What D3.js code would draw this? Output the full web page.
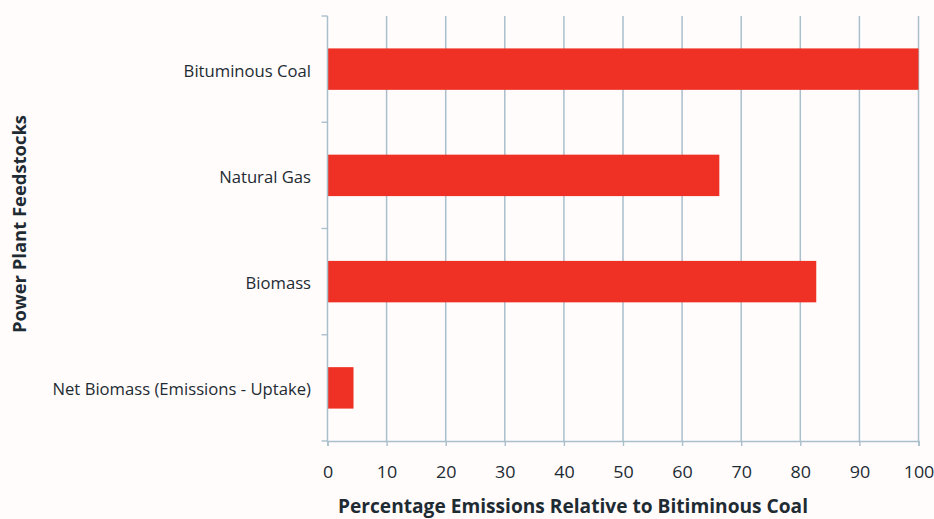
<!DOCTYPE html>
<html><head><meta charset="utf-8">
<script src="https://cdn.jsdelivr.net/npm/d3@7"></script>
<style>
html,body{margin:0;padding:0;background:#fffcfb;}
svg{display:block;}
text{font-family:"Open Sans",sans-serif;fill:#1e2b33;}
</style></head>
<body>
<svg id="chart" width="934" height="519"></svg>
<script>
const categories = ["Bituminous Coal","Natural Gas","Biomass","Net Biomass (Emissions - Uptake)"];
const values = [100, 66.3, 82.7, 4.4];
const xTicks = [0,10,20,30,40,50,60,70,80,90,100];
const xTitle = "Percentage Emissions Relative to Bitiminous Coal";
const yTitle = "Power Plant Feedstocks";

(function(){
const svg = d3.select("#chart");
const mLeft = 327.5, mRight = 918.5, mTop = 16, mBottom = 441;

const x = d3.scaleLinear().domain([0,100]).range([mLeft,mRight]);
const y = d3.scaleBand().domain(categories).range([mTop,mBottom]).paddingInner(0.61).paddingOuter(0.305);

const gridColor = "#a9bfcc";
const stretch = 1.075;

// gridlines
svg.append("g").selectAll("line").data(xTicks.slice(1)).join("line")
  .attr("x1", d=>x(d)).attr("x2", d=>x(d))
  .attr("y1", mTop).attr("y2", mBottom)
  .attr("stroke", gridColor).attr("stroke-width", 1.5);

// bars
svg.append("g").selectAll("rect").data(categories).join("rect")
  .attr("x", x(0))
  .attr("y", d=>y(d))
  .attr("width", (d,i)=>x(values[i])-x(0))
  .attr("height", y.bandwidth())
  .attr("fill", "#ee3124");

// y axis line + ticks at band boundaries
const yAxisG = svg.append("g");
yAxisG.append("line").attr("x1", mLeft).attr("x2", mLeft).attr("y1", mTop).attr("y2", mBottom)
  .attr("stroke", gridColor).attr("stroke-width", 1.5);
const boundaries = d3.range(categories.length+1).map(i=>mTop + i*(mBottom-mTop)/categories.length);
yAxisG.selectAll("line.tk").data(boundaries).join("line").attr("class","tk")
  .attr("x1", mLeft-6).attr("x2", mLeft).attr("y1", d=>d).attr("y2", d=>d)
  .attr("stroke", gridColor).attr("stroke-width", 1.4);

// y labels
svg.append("g").selectAll("text").data(categories).join("text")
  .attr("transform", d=>`translate(311,${y(d)+y.bandwidth()/2+7.5}) scale(${stretch},1)`)
  .attr("text-anchor","end")
  .attr("font-size", 15.5).text(d=>d);

// x axis
const xAxis = d3.axisBottom(x).tickValues(xTicks).tickSize(5).tickFormat(d3.format("d"));
const xg = svg.append("g").attr("transform", `translate(0,${mBottom})`).call(xAxis);
xg.select(".domain").attr("stroke", gridColor).attr("stroke-width", 1.5);
xg.selectAll(".tick line").attr("stroke", gridColor).attr("stroke-width", 1.4);
xg.selectAll(".tick text").attr("y", null).attr("dy", null)
  .attr("transform", `translate(0,37) scale(1.12,1)`)
  .attr("font-size", 16).attr("font-family","'Open Sans',sans-serif").attr("fill","#1e2b33");

// titles
svg.append("text").attr("x", 338).attr("y", 513)
  .attr("font-size", 19).attr("font-weight","bold")
  .attr("textLength", 470).attr("lengthAdjust","spacingAndGlyphs").text(xTitle);
svg.append("text").attr("transform", "translate(26,333) rotate(-90)")
  .attr("font-size", 18.5).attr("font-weight","bold")
  .attr("textLength", 218).attr("lengthAdjust","spacingAndGlyphs").text(yTitle);
})();
</script>
</body></html>
